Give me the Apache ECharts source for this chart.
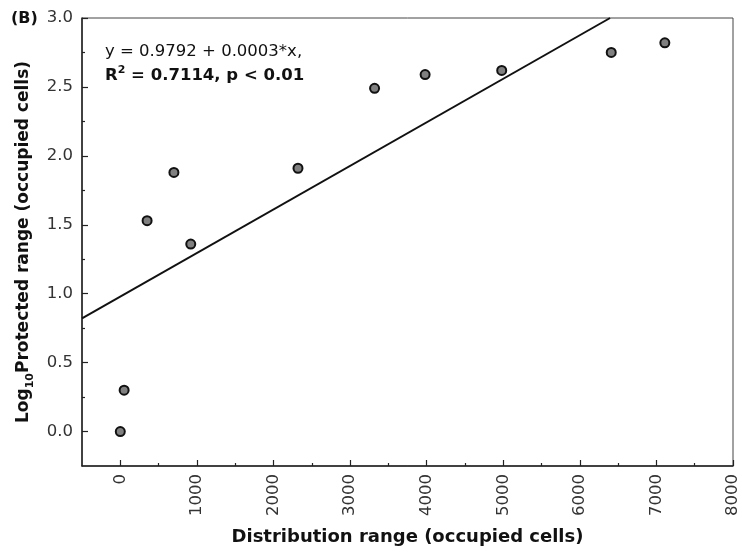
<!DOCTYPE html>
<html><head><meta charset="utf-8">
<script src="https://cdn.jsdelivr.net/npm/echarts@6/dist/echarts.min.js"></script>
<style>html,body{margin:0;padding:0;background:#fff}#c{width:742px;height:555px}</style>
</head><body><div id="c"></div>
<script>
// ---- data ----
const distRange    = [0, 50, 350, 700, 920, 2320, 3320, 3980, 4980, 6410, 7110];
const logProtected = [0.00, 0.30, 1.53, 1.88, 1.36, 1.91, 2.49, 2.59, 2.62, 2.75, 2.82];
const xTicks       = [0, 1000, 2000, 3000, 4000, 5000, 6000, 7000, 8000];
const xMinorTicks  = [500, 1500, 2500, 3500, 4500, 5500, 6500, 7500];
const yTicks       = [0, 0.5, 1.0, 1.5, 2.0, 2.5, 3.0];
const yMinorTicks  = [0.25, 0.75, 1.25, 1.75, 2.25, 2.75];
const fitIntercept = 0.9792;
const fitSlope     = 0.000316;   // slope of the drawn line (label shows rounded 0.0003)
const xRange = [-500, 8000];
const yRange = [-0.25, 3.0];
const panelLabel = '(B)';
const eqText = 'y = 0.9792 + 0.0003*x,';
const statText = ' = 0.7114, p < 0.01';
const xTitle = 'Distribution range (occupied cells)';
const yTitleParts = ['Log', '10', 'Protected range (occupied cells)'];

// ---- build ----
const FONT = 'DejaVu Sans';
const points = distRange.map((x, i) => [x, logProtected[i]]);
const xStart = xRange[0];
const xEnd = Math.min(xRange[1], (yRange[1] - fitIntercept) / fitSlope);
const fitLine = [[xStart, fitIntercept + fitSlope * xStart], [xEnd, fitIntercept + fitSlope * xEnd]];

const chart = echarts.init(document.getElementById('c'), null, {renderer: 'canvas'});
function tickAxis(range, pos, values, len) {
  return {type: 'value', min: range[0], max: range[1], position: pos, offset: 0,
    splitLine: {show: false},
    axisLine: {show: false, onZero: false},
    axisTick: {show: true, inside: true, length: len, customValues: values, lineStyle: {color: '#222', width: 1.2}},
    axisLabel: {show: false}};
}
chart.setOption({
  animation: false,
  backgroundColor: '#fff',
  textStyle: {fontFamily: FONT},
  grid: {left: 82, right: 9, top: 18, bottom: 89, show: true, borderColor: '#444', borderWidth: 1, backgroundColor: 'transparent'},
  title: [
    {text: panelLabel, left: 11, top: 11, padding: 0,
     textStyle: {fontFamily: FONT, fontSize: 16, fontWeight: 'bold', color: '#111'}},
    {text: eqText, left: 105, top: 43, padding: 0,
     textStyle: {fontFamily: FONT, fontSize: 16.5, fontWeight: 'normal', color: '#111'}},
    {text: '{b|R}{sup|2}{b|' + statText + '}', left: 105, top: 65, padding: 0,
     textStyle: {fontFamily: FONT, fontSize: 16.5, color: '#111',
       rich: {
         b: {fontFamily: FONT, fontSize: 16.5, fontWeight: 'bold', color: '#111', lineHeight: 22},
         sup: {fontFamily: FONT, fontSize: 11, fontWeight: 'bold', color: '#111', verticalAlign: 'top', lineHeight: 14}
       }}}
  ],
  xAxis: [
    {type: 'value', min: xRange[0], max: xRange[1], position: 'bottom', splitLine: {show: false},
      name: xTitle, nameLocation: 'middle', nameGap: 62,
      nameTextStyle: {fontFamily: FONT, fontSize: 18, fontWeight: 'bold', color: '#111'},
      axisLine: {show: true, onZero: false, lineStyle: {color: '#222', width: 1.5}},
      axisTick: {show: false},
      axisLabel: {show: true, rotate: 90, margin: 8, customValues: xTicks, fontFamily: FONT, fontSize: 16.5, color: '#333',
        formatter: v => String(Math.round(v))}
    },
    tickAxis(xRange, 'bottom', xTicks, 6),
    tickAxis(xRange, 'bottom', xMinorTicks, 3)
  ],
  yAxis: [
    {type: 'value', min: yRange[0], max: yRange[1], position: 'left', splitLine: {show: false},
      name: '{a|' + yTitleParts[0] + '}{s|' + yTitleParts[1] + '}{a|' + yTitleParts[2] + '}',
      nameLocation: 'middle', nameRotate: 90, nameGap: 45,
      nameTextStyle: {fontFamily: FONT, fontSize: 17, fontWeight: 'bold', color: '#111',
        rich: {
          a: {fontFamily: FONT, fontSize: 17, fontWeight: 'bold', color: '#111', lineHeight: 24},
          s: {fontFamily: FONT, fontSize: 11, fontWeight: 'bold', color: '#111', verticalAlign: 'bottom', lineHeight: 12}
        }},
      axisLine: {show: true, onZero: false, lineStyle: {color: '#222', width: 1.5}},
      axisTick: {show: false},
      axisLabel: {show: true, margin: 9, customValues: yTicks, fontFamily: FONT, fontSize: 16.5, color: '#333',
        formatter: v => Number(v).toFixed(1)}
    },
    tickAxis(yRange, 'left', yTicks, 6),
    tickAxis(yRange, 'left', yMinorTicks, 3)
  ],
  series: [
    {type: 'line', data: fitLine, xAxisIndex: 0, yAxisIndex: 0, symbol: 'none', silent: true, clip: true,
     lineStyle: {color: '#111', width: 2}, z: 2},
    {type: 'scatter', data: points, xAxisIndex: 0, yAxisIndex: 0, symbol: 'circle', symbolSize: 9, silent: true,
     itemStyle: {color: '#808080', borderColor: '#111', borderWidth: 2, opacity: 1}, z: 3}
  ]
});
</script>
</body></html>
